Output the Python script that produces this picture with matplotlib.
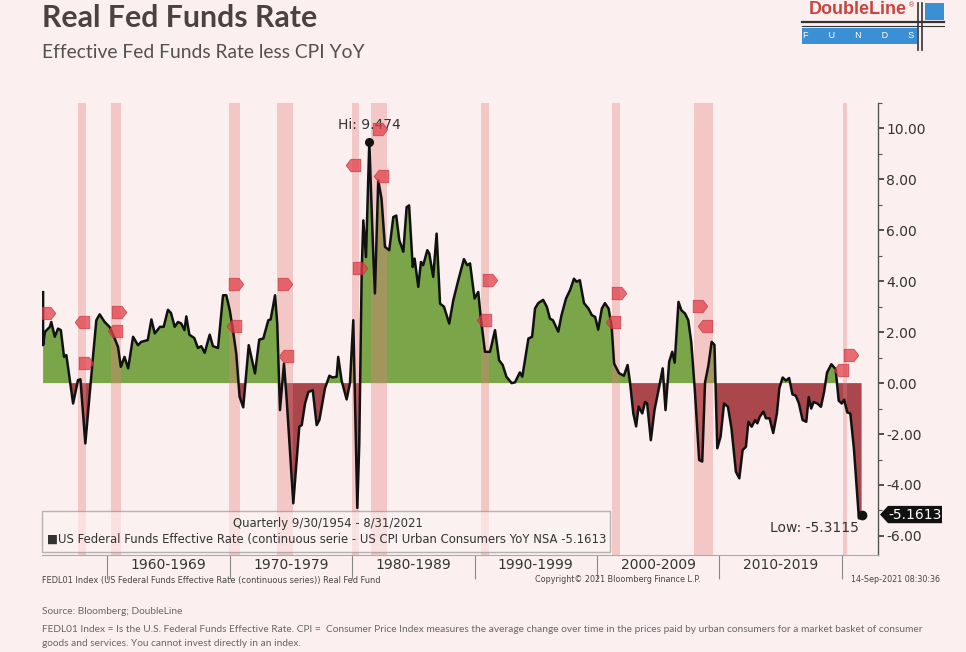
import matplotlib
matplotlib.use("Agg")
import matplotlib.pyplot as plt
import numpy as np
from matplotlib.path import Path
from matplotlib.patches import Rectangle, Polygon
from matplotlib.lines import Line2D
from matplotlib.transforms import blended_transform_factory

# ---------------- data ----------------
years = [1954.75, 1954.75, 1954.9, 1955.3, 1955.42, 1955.7, 1955.97, 1956.2, 1956.46, 1956.65,
         1957.2, 1957.6, 1957.8, 1958.2, 1958.8, 1959.1, 1959.37, 1959.78, 1960.19, 1960.6,
         1960.87, 1961.1, 1961.4, 1961.7, 1962.1, 1962.5, 1962.77, 1963.3, 1963.6, 1963.87,
         1964.3, 1964.6, 1964.95, 1965.2, 1965.5, 1965.77, 1966.04, 1966.3, 1966.45, 1966.7,
         1967.1, 1967.4, 1967.67, 1967.95, 1968.36, 1968.63, 1969.04, 1969.45, 1969.72, 1970.0,
         1970.26, 1970.53, 1970.8, 1971.1, 1971.55, 1972.06, 1972.41, 1972.74, 1973.15, 1973.34,
         1973.7, 1973.88, 1974.1, 1974.43, 1974.65, 1975.19, 1975.68, 1975.88, 1976.15, 1976.42,
         1976.78, 1977.1, 1977.32, 1977.78, 1978.14, 1978.4, 1978.73, 1978.86, 1979.14, 1979.55,
         1979.82, 1980.09, 1980.42, 1980.58, 1980.78, 1980.91, 1981.13, 1981.4, 1981.6, 1981.73,
         1981.86, 1982.13, 1982.4, 1982.68, 1983.03, 1983.36, 1983.6, 1983.85, 1984.18, 1984.45,
         1984.65, 1984.95, 1985.1, 1985.4, 1985.62, 1985.8, 1986.14, 1986.3, 1986.62, 1986.9,
         1987.18, 1987.5, 1987.93, 1988.26, 1988.67, 1989.13, 1989.4, 1989.63, 1990.0, 1990.3,
         1990.5, 1990.85, 1991.26, 1991.67, 1992.0, 1992.3, 1992.6, 1993.03, 1993.3, 1993.7,
         1993.9, 1994.4, 1994.7, 1994.94, 1995.2, 1995.6, 1995.9, 1996.16, 1996.4, 1996.84,
         1997.1, 1997.47, 1997.8, 1998.12, 1998.33, 1998.6, 1998.94, 1999.3, 1999.58, 1999.85,
         2000.1, 2000.4, 2000.65, 2000.95, 2001.2, 2001.4, 2001.8, 2002.2, 2002.5, 2002.7,
         2002.97, 2003.2, 2003.4, 2003.7, 2003.93, 2004.1, 2004.4, 2004.7, 2005.1, 2005.37,
         2005.6, 2005.9, 2006.15, 2006.35, 2006.66, 2006.9, 2007.2, 2007.46, 2007.7, 2007.99,
         2008.35, 2008.6, 2008.83, 2009.1, 2009.37, 2009.6, 2009.83, 2010.1, 2010.38, 2010.7,
         2010.99, 2011.35, 2011.63, 2011.9, 2012.17, 2012.37, 2012.64, 2012.92, 2013.1, 2013.3,
         2013.6, 2013.8, 2014.1, 2014.4, 2014.7, 2014.9, 2015.17, 2015.44, 2015.7, 2015.97,
         2016.25, 2016.5, 2016.8, 2017.1, 2017.3, 2017.5, 2017.7, 2018.0, 2018.3, 2018.55,
         2018.8, 2019.15, 2019.5, 2019.75, 2020.0, 2020.2, 2020.45, 2020.7, 2020.99, 2021.4,
         2021.62]
real_rate = [3.57, 1.49, 2.01, 2.21, 2.40, 1.82, 2.14, 2.08, 1.03, 1.10,
             -0.80, 0.12, 0.15, -2.37, 0.90, 2.47, 2.70, 2.40, 2.20, 1.75,
             1.42, 0.64, 1.03, 0.58, 1.82, 1.49, 1.62, 1.69, 2.50, 1.95,
             2.21, 2.21, 2.88, 2.75, 2.21, 2.40, 2.34, 2.08, 2.62, 1.90,
             1.77, 1.38, 1.45, 1.19, 1.90, 1.45, 1.38, 3.45, 3.45, 2.86,
             2.08, 1.17, -0.53, -0.95, 1.49, 0.38, 1.71, 1.75, 2.47, 2.50,
             3.45, 2.33, -1.06, 0.77, -0.64, -4.72, -1.71, -1.65, -0.80, -0.35,
             -0.28, -1.65, -1.45, -0.20, 0.29, 0.22, 0.25, 1.03, 0.09, -0.64,
             0.00, 2.47, -4.90, -2.40, 4.43, 6.39, 4.95, 9.474, 6.80, 4.95,
             3.52, 7.96, 7.24, 5.35, 5.22, 6.52, 6.58, 5.61, 5.16, 6.91,
             6.98, 4.56, 4.89, 3.78, 4.76, 4.63, 5.22, 5.09, 4.17, 5.87,
             3.12, 3.00, 2.34, 3.25, 4.04, 4.87, 4.63, 4.70, 3.32, 3.58,
             2.60, 1.23, 1.23, 2.08, 0.90, 0.71, 0.25, 0.00, 0.03, 0.42,
             0.25, 1.75, 1.82, 2.93, 3.14, 3.27, 3.00, 2.53, 2.47, 2.02,
             2.66, 3.32, 3.65, 4.10, 3.98, 4.04, 3.14, 2.93, 2.67, 2.60,
             2.10, 2.93, 3.14, 2.93, 2.22, 0.77, 0.39, 0.29, 0.71, 0.03,
             -1.19, -1.70, -0.92, -1.19, -0.74, -0.80, -2.24, -1.06, -0.10, 0.58,
             -1.06, 0.84, 1.23, 0.80, 3.19, 2.86, 2.73, 2.47, 1.62, -0.24,
             -3.02, -3.08, 0.03, 0.68, 1.62, 1.50, -2.56, -2.10, -0.80, -0.93,
             -1.78, -3.48, -3.74, -2.63, -2.50, -1.52, -1.71, -1.45, -1.58, -1.32,
             -1.12, -1.38, -1.38, -1.96, -1.19, -0.20, 0.22, 0.10, 0.20, -0.44,
             -0.50, -0.80, -1.45, -1.52, -0.55, -1.00, -0.74, -0.80, -0.93, -0.36,
             0.42, 0.74, 0.55, -0.69, -0.80, -0.65, -1.15, -1.20, -2.56, -5.3115,
             -5.1613]

rec_start = [1957.58, 1960.29, 1969.92, 1973.87, 1980.0, 1981.54, 1990.54, 2001.21, 2007.96, 2020.1]
rec_end = [1958.29, 1961.12, 1970.87, 1975.2, 1980.54, 1982.87, 1991.21, 2001.87, 2009.46, 2020.4]

decade_bounds = [1960, 1970, 1980, 1990, 2000, 2010, 2020]
decade_labels = ["1960-1969", "1970-1979", "1980-1989", "1990-1999", "2000-2009", "2010-2019"]

y_major = [-6, -4, -2, 0, 2, 4, 6, 8, 10]
y_minor = [-5, -3, -1, 1, 3, 5, 7, 9, 11]

# event flags (Bloomberg event markers): year, level, direction
evt_years = [1955.15, 1957.93, 1958.25, 1960.95, 1960.6, 1970.5, 1970.35, 1974.5, 1974.6,
             1980.07, 1980.64, 1982.27, 1982.35, 1991.26, 1990.77, 2001.8, 2001.3,
             2008.42, 2008.8, 2020.75, 2019.94]
evt_vals = [2.75, 2.39, 0.78, 2.78, 2.04, 3.88, 2.24, 3.88, 1.06,
            8.55, 4.51, 9.96, 8.12, 4.04, 2.47, 3.53, 2.39,
            3.02, 2.24, 1.10, 0.51]
evt_dir = ["R", "L", "R", "R", "L", "R", "L", "R", "L",
           "L", "R", "R", "L", "R", "L", "R", "L",
           "R", "L", "R", "L"]

hi_val = 9.474
low_val = -5.3115
last_val = -5.1613

# ---------------- figure ----------------
BG = "#fbf0ef"
W, H = 966, 652
fig = plt.figure(figsize=(W / 100, H / 100), dpi=100, facecolor=BG)

def fx(px):
    return px / W

def fy(py):
    return 1 - py / H

ax = fig.add_axes([fx(42), fy(555), fx(878) - fx(42), fy(103) - fy(555)])
ax.set_facecolor(BG)

x = np.array(years)
y = np.array(real_rate)

ax.fill_between(x, y, 0, where=y >= 0, interpolate=True, color="#7aa548", lw=0, zorder=1)
ax.fill_between(x, y, 0, where=y <= 0, interpolate=True, color="#a9474c", lw=0, zorder=1)

for s, e in zip(rec_start, rec_end):
    ax.axvspan(s, e, color="#e88080", alpha=0.36, lw=0, zorder=2)

ax.plot(x, y, color="#111111", lw=1.8, zorder=4, solid_joinstyle="round")

# hi / last dots
i_hi = int(np.argmax(y))
ax.plot([x[i_hi]], [y[i_hi]], "o", color="#111111", ms=5.5, zorder=6)
ax.plot([x[-1]], [y[-1]], "o", color="#111111", ms=6, zorder=6)
ax.text(x[i_hi], hi_val + 0.4, f"Hi: {hi_val:.3f}", ha="center", va="bottom",
        fontsize=10, color="#333333", zorder=5)
ax.text(x[-1] - 0.2, low_val - 0.1, f"Low: {low_val:.4f}", ha="right", va="top",
        fontsize=10, color="#333333", zorder=5)

# event flags
flag_r = Path([(-1, -0.85), (0.35, -0.85), (1, 0), (0.35, 0.85), (-1, 0.85), (-1, -0.85)],
              [Path.MOVETO, Path.LINETO, Path.LINETO, Path.LINETO, Path.LINETO, Path.CLOSEPOLY])
flag_l = Path([(1, -0.85), (-0.35, -0.85), (-1, 0), (-0.35, 0.85), (1, 0.85), (1, -0.85)],
              [Path.MOVETO, Path.LINETO, Path.LINETO, Path.LINETO, Path.LINETO, Path.CLOSEPOLY])
for ex, ev, ed in zip(evt_years, evt_vals, evt_dir):
    ax.plot([ex], [ev], marker=flag_r if ed == "R" else flag_l, ms=10.5,
            mfc="#e2404a", mec="#c0303a", mew=0.6, alpha=0.75, zorder=7, ls="none")

# axes limits
ax.set_xlim(1954.66, 2022.96)
ax.set_ylim(-6.75, 11.0)

# y axis on right
ax.yaxis.tick_right()
ax.set_yticks(y_major)
ax.set_yticks(y_minor, minor=True)
ax.set_yticklabels([f"{v:.2f}" for v in y_major])
ax.tick_params(axis="y", which="major", direction="out", length=4, width=1.2,
               colors="#333333", labelsize=10, pad=2)
ax.tick_params(axis="y", which="minor", direction="out", length=3, width=0.8, colors="#555555")

# x axis: decade boundaries as long ticks, labels centered within decades
ax.set_xticks(decade_bounds)
ax.set_xticklabels([""] * len(decade_bounds))
ax.set_xticks([b + 5 for b in decade_bounds[:-1]], minor=True)
ax.set_xticklabels(decade_labels, minor=True)
ax.tick_params(axis="x", which="major", direction="out", length=17, width=0.8, colors="#888888")
ax.tick_params(axis="x", which="minor", length=0, labelsize=10, labelcolor="#333333", pad=2)

for side in ["top", "left"]:
    ax.spines[side].set_visible(False)
ax.spines["right"].set_color("#555555")
ax.spines["right"].set_linewidth(1.0)
ax.spines["bottom"].set_color("#aaaaaa")
ax.spines["bottom"].set_linewidth(0.8)

# last value tag on right axis
tr = blended_transform_factory(ax.transAxes, ax.transData)
axw = 878 - 42
tag = Polygon([(1 + 2 / axw, last_val), (1 + 10 / axw, last_val + 0.34),
               (1 + 64 / axw, last_val + 0.34), (1 + 64 / axw, last_val - 0.34),
               (1 + 10 / axw, last_val - 0.34)], closed=True, transform=tr,
              facecolor="#111111", edgecolor="none", clip_on=False, zorder=8)
ax.add_patch(tag)
ax.text(1 + 37 / axw, last_val, f"{last_val:.4f}", transform=tr, ha="center", va="center",
        fontsize=10, color="white", zorder=9, clip_on=False)

# legend box
fig.patches.append(Rectangle((fx(42), fy(552)), fx(610) - fx(42), fy(511) - fy(552),
                             transform=fig.transFigure, facecolor="#fbf3f2", alpha=0.6,
                             edgecolor="#8a8a8a", lw=1.0, zorder=10))
fig.text(fx(328), fy(523), "Quarterly 9/30/1954 - 8/31/2021", ha="center", va="center",
         fontsize=8.4, color="#333333", zorder=11)
fig.text(fx(47), fy(539), "\u25a0US Federal Funds Effective Rate (continuous serie - US CPI Urban Consumers YoY NSA -5.1613",
         ha="left", va="center", fontsize=8.4, color="#333333", zorder=11)

# bloomberg footer line
fig.text(fx(42), fy(580), "FEDL01 Index (US Federal Funds Effective Rate (continuous series)) Real Fed Fund",
         ha="left", va="center", fontsize=5.95, color="#444444")
fig.text(fx(700), fy(580), "Copyright\u00a9 2021 Bloomberg Finance L.P.", ha="right", va="center",
         fontsize=5.8, color="#444444")
fig.text(fx(940), fy(580), "14-Sep-2021 08:30:36", ha="right", va="center",
         fontsize=5.8, color="#444444")

# titles
fig.text(fx(42), fy(18), "Real Fed Funds Rate", ha="left", va="center", fontsize=21.8,
         fontweight="bold", family="Lato", color="#4a4242")
fig.text(fx(42), fy(53), "Effective Fed Funds Rate less CPI YoY", ha="left", va="center",
         fontsize=13.9, family="Lato", color="#555050")

# footnotes
fn_kw = dict(ha="left", va="center", fontsize=7.3, family="Lato", color="#666666")
fig.text(fx(42), fy(612), "Source: Bloomberg; DoubleLine", **fn_kw)
fig.text(fx(42), fy(630), "FEDL01 Index = Is the U.S. Federal Funds Effective Rate. CPI =  Consumer Price Index measures the average change over time in the prices paid by urban consumers for a market basket of consumer", **fn_kw)
fig.text(fx(42), fy(644), "goods and services. You cannot invest directly in an index.", **fn_kw)

# logo
fig.text(fx(858), fy(10), "DoubleLine", ha="center", va="center", fontsize=13,
         fontweight="bold", family="Liberation Sans", color="#c8453f")
fig.text(fx(912), fy(5), "\u00ae", ha="center", va="center", fontsize=5, color="#c8453f")
fig.patches.append(Rectangle((fx(802), fy(44)), fx(917) - fx(802), fy(28) - fy(44),
                             transform=fig.transFigure, facecolor="#3b8fd4", edgecolor="none"))
fig.patches.append(Rectangle((fx(925), fy(20)), fx(944) - fx(925), fy(3) - fy(20),
                             transform=fig.transFigure, facecolor="#3b8fd4", edgecolor="none"))
fig.text(fx(859), fy(36), "F        U        N        D        S", ha="center", va="center",
         fontsize=6.5, color="white", family="Liberation Sans")
for (x0, y0, x1, y1, lw) in [(802, 22, 944, 22, 1.6), (802, 26, 944, 26, 0.8),
                             (918, 3, 918, 50, 1.2), (922, 3, 922, 50, 1.2)]:
    fig.lines.append(Line2D([fx(x0), fx(x1)], [fy(y0), fy(y1)], transform=fig.transFigure,
                            color="#333333", lw=lw))

fig.savefig("out.png", dpi=100, facecolor=BG)
